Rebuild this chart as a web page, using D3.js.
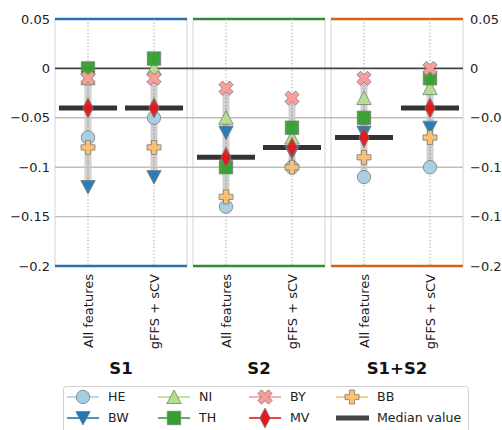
<!DOCTYPE html>
<html>
<head>
<meta charset="utf-8">
<script src="https://cdn.jsdelivr.net/npm/d3@7"></script>
<style>
  html, body { margin: 0; padding: 0; background: #fff; }
  svg { display: block; font-family: "DejaVu Sans", Verdana, sans-serif; }
</style>
</head>
<body>
<svg id="chart" width="502" height="430"></svg>
<script>
// ---------------- data ----------------
const groups = ["S1", "S2", "S1+S2"];
const categories = ["All features", "gFFS + sCV"];
// values per (group, category): S1-All, S1-gFFS, S2-All, S2-gFFS, S12-All, S12-gFFS
const HE = [-0.07, -0.05, -0.14, -0.10, -0.11, -0.10];
const BW = [-0.12, -0.11, -0.065, -0.085, -0.065, -0.06];
const NI = [-0.01, 0.0, -0.05, -0.07, -0.03, -0.02];
const TH = [0.0, 0.01, -0.10, -0.06, -0.05, -0.01];
const BY = [-0.01, -0.01, -0.02, -0.03, -0.01, 0.0];
const MV = [-0.04, -0.04, -0.09, -0.08, -0.07, -0.04];
const BB = [-0.08, -0.08, -0.13, -0.10, -0.09, -0.07];
const medianValue = [-0.04, -0.04, -0.09, -0.08, -0.07, -0.04];
const yTicks = [0.05, 0, -0.05, -0.1, -0.15, -0.2];
const seriesNames = ["HE", "BW", "NI", "TH", "BY", "MV", "BB"];
const seriesValues = { HE, BW, NI, TH, BY, MV, BB };

// ---------------- styles ----------------
const seriesColor = { HE: "#a6cee3", BW: "#1f78b4", NI: "#b2df8a", TH: "#33a02c", BY: "#fb9a99", MV: "#e31a1c", BB: "#fdbf6f" };
const seriesShape = { HE: "circle", BW: "tridown", NI: "triup", TH: "square", BY: "x", MV: "thindiamond", BB: "plus" };
const groupColor = { "S1": "#2b6fb0", "S2": "#2e8b3a", "S1+S2": "#d95f1a" };

function shapePath(s) {
  switch (s) {
    case "circle": return "M6.7,0A6.7,6.7 0 1,1 -6.7,0A6.7,6.7 0 1,1 6.7,0Z";
    case "square": return "M-6.7,-6.7H6.7V6.7H-6.7Z";
    case "triup": return "M0,-7L7.2,6.5H-7.2Z";
    case "tridown": return "M0,7L7.2,-6.5H-7.2Z";
    case "thindiamond": return "M0,-10L5.2,0L0,10L-5.2,0Z";
    case "plus": return "M-2.6,-7H2.6V-2.6H7V2.6H2.6V7H-2.6V2.6H-7V-2.6H-2.6Z";
    case "x": {
      const pts = [[-2.6,-7.5],[2.6,-7.5],[2.6,-2.6],[7.5,-2.6],[7.5,2.6],[2.6,2.6],[2.6,7.5],[-2.6,7.5],[-2.6,2.6],[-7.5,2.6],[-7.5,-2.6],[-2.6,-2.6]];
      const c = Math.SQRT1_2;
      return "M" + pts.map(([x,y]) => [(x - y) * c, (x + y) * c].map(v => v.toFixed(2)).join(",")).join("L") + "Z";
    }
  }
}

// ---------------- layout ----------------
const svg = d3.select("#chart");
const plotTop = 19, plotBottom = 266, plotLeft = 55, plotRight = 463;
const y = d3.scaleLinear().domain([-0.2, 0.05]).range([plotBottom, plotTop]);
const xGroup = d3.scaleBand().domain(groups).range([plotLeft, plotRight]).paddingInner(6 / 138).paddingOuter(0);
const xCat = d3.scalePoint().domain(categories).range([0, xGroup.bandwidth()]).padding(0.5);
const fmt = v => (v < 0 ? "\u2212" : "") + String(Math.abs(v));

// panel borders
groups.forEach(g => {
  const x0 = xGroup(g), w = xGroup.bandwidth();
  [x0, x0 + w].forEach(xx => svg.append("line").attr("x1", xx).attr("x2", xx).attr("y1", plotTop).attr("y2", plotBottom)
    .attr("stroke", "#dcdcdc").attr("stroke-width", 1.2));
});

// horizontal gridlines
yTicks.filter(t => t < 0.05 && t > -0.2).forEach(t => {
  svg.append("line").attr("x1", plotLeft).attr("x2", plotRight).attr("y1", y(t)).attr("y2", y(t))
    .attr("stroke", t === 0 ? "#444" : "#bdbdbd").attr("stroke-width", t === 0 ? 1.8 : 1.4);
});

// top/bottom coloured lines
groups.forEach(g => {
  const x0 = xGroup(g), w = xGroup.bandwidth();
  [plotTop, plotBottom].forEach(yy => svg.append("line").attr("x1", x0).attr("x2", x0 + w).attr("y1", yy).attr("y2", yy)
    .attr("stroke", groupColor[g]).attr("stroke-width", 2.6));
});

// y tick labels left and right
const yAxisL = d3.axisLeft(y).tickValues(yTicks).tickFormat(fmt).tickSize(0).tickPadding(5);
const yAxisR = d3.axisRight(y).tickValues(yTicks).tickFormat(fmt).tickSize(0).tickPadding(7);
const gl = svg.append("g").attr("transform", `translate(${plotLeft},0)`).call(yAxisL);
const gr = svg.append("g").attr("transform", `translate(${plotRight},0)`).call(yAxisR);
[gl, gr].forEach(g => {
  g.select(".domain").remove();
  g.selectAll("text").attr("font-size", 13).attr("fill", "#222").attr("font-family", "DejaVu Sans, sans-serif");
});

// per-cell marks
groups.forEach((g, gi) => {
  const x0 = xGroup(g);
  categories.forEach((c, ci) => {
    const idx = gi * 2 + ci;
    const cx = x0 + xCat(c);
    svg.append("line").attr("x1", cx).attr("x2", cx).attr("y1", plotTop).attr("y2", plotBottom)
      .attr("stroke", "#9a9a9a").attr("stroke-width", 1).attr("stroke-dasharray", "1.2,2.2");
    const vals = seriesNames.map(s => seriesValues[s][idx]);
    const lo = d3.min(vals), hi = d3.max(vals);
    svg.append("line").attr("x1", cx).attr("x2", cx).attr("y1", y(hi)).attr("y2", y(lo))
      .attr("stroke", "#c9c9c9").attr("stroke-width", 7).attr("opacity", 0.85);
    svg.append("line").attr("x1", cx).attr("x2", cx).attr("y1", y(hi)).attr("y2", y(lo))
      .attr("stroke", "#8f8f8f").attr("stroke-width", 1).attr("stroke-dasharray", "1.2,2.2");
    svg.append("line").attr("x1", cx - 29).attr("x2", cx + 29).attr("y1", y(medianValue[idx])).attr("y2", y(medianValue[idx]))
      .attr("stroke", "#333").attr("stroke-width", 5);
    seriesNames.forEach(s => {
      svg.append("path").attr("d", shapePath(seriesShape[s]))
        .attr("transform", `translate(${cx},${y(seriesValues[s][idx])})`)
        .attr("fill", seriesColor[s]).attr("stroke", "#7a7a7a").attr("stroke-width", 1)
        .attr("stroke-opacity", 0.8).attr("fill-opacity", 0.95);
    });
    svg.append("text").attr("transform", `translate(${cx + 4.7},${plotBottom + 8}) rotate(-90)`)
      .attr("text-anchor", "end").attr("font-size", 13).attr("fill", "#222").text(c);
  });
  svg.append("text").attr("x", x0 + xGroup.bandwidth() / 2).attr("y", 374)
    .attr("text-anchor", "middle").attr("font-size", 16.5).attr("font-weight", "bold").attr("fill", "#111").text(g);
});

// ---------------- legend ----------------
const lg = svg.append("g");
lg.append("rect").attr("x", 63.5).attr("y", 386.5).attr("width", 405).attr("height", 52).attr("rx", 3)
  .attr("fill", "#fff").attr("stroke", "#d0d0d0");
const legendItems = ["HE", "BW", "NI", "TH", "BY", "MV", "BB", "Median value"];
const colX = [67, 158, 249, 336];
const rowY = [397, 418];
legendItems.forEach((name, i) => {
  const col = Math.floor(i / 2), row = i % 2;
  const lx = colX[col], ly = rowY[row];
  if (name === "Median value") {
    lg.append("line").attr("x1", lx).attr("x2", lx + 33).attr("y1", ly).attr("y2", ly)
      .attr("stroke", "#444").attr("stroke-width", 5);
  } else {
    lg.append("line").attr("x1", lx).attr("x2", lx + 32).attr("y1", ly).attr("y2", ly)
      .attr("stroke", seriesColor[name]).attr("stroke-width", 1.6);
    lg.append("path").attr("d", shapePath(seriesShape[name]))
      .attr("transform", `translate(${lx + 16},${ly})`)
      .attr("fill", seriesColor[name]).attr("stroke", "#7a7a7a").attr("stroke-width", 1).attr("stroke-opacity", 0.8);
  }
  lg.append("text").attr("x", lx + 41).attr("y", ly).attr("dy", "0.35em")
    .attr("font-size", 12.6).attr("fill", "#222").text(name);
});
</script>
</body>
</html>
